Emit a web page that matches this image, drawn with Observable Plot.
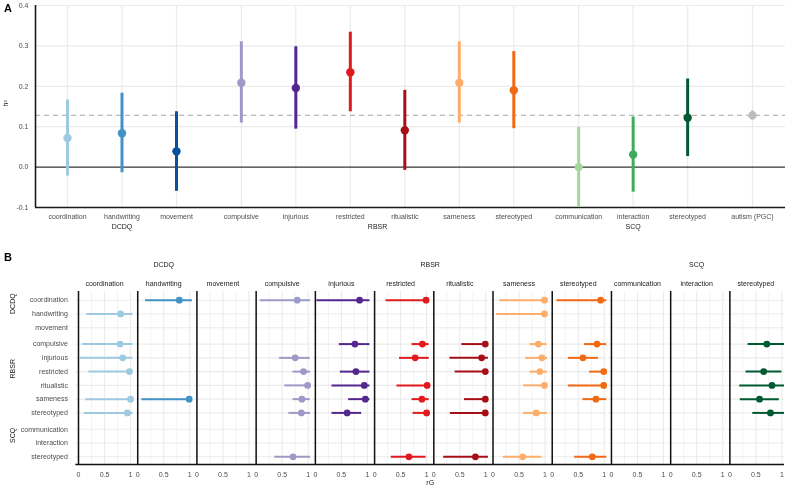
<!DOCTYPE html>
<html><head><meta charset="utf-8">
<script src="https://cdn.jsdelivr.net/npm/d3@7"></script>
<script src="https://cdn.jsdelivr.net/npm/@observablehq/plot@0.6"></script>
<style>
body{margin:0;background:#fff;font-family:"Liberation Sans",Arial,sans-serif;}
#wrap{position:relative;width:787px;height:489px;overflow:hidden;background:#fff;}
.tag{position:absolute;font-weight:bold;font-size:11px;color:#000;line-height:1;}
#pa{position:absolute;left:0;top:0}
#pb{position:absolute;left:0;top:240px}
#wrap svg{will-change:transform;}
</style></head><body>
<div id="wrap"><div id="pa"></div><div id="pb"></div>
<div class="tag" style="left:4px;top:3px">A</div>
<div class="tag" style="left:4px;top:252px">B</div></div>
<script>
// ---------- data ----------
const traits = ["coordination","handwriting","movement","compulsive","injurious","restricted","ritualistic","sameness","stereotyped","communication","interaction","stereotyped","autism (PGC)"];
const groups = ["DCDQ","DCDQ","DCDQ","RBSR","RBSR","RBSR","RBSR","RBSR","RBSR","SCQ","SCQ","SCQ","PGC"];
const colors = ["#9ecae1","#4292c6","#08519c","#9e9ac8","#54278f","#e31a1c","#a50f15","#fdae6b","#f16913","#a1d99b","#41ab5d","#005a32","#bdbdbd"];
const h2Est = [0.072,0.084,0.039,0.209,0.196,0.235,0.091,0.209,0.190,0.000,0.031,0.122,0.128];
const h2Lo  = [-0.022,-0.014,-0.060,0.109,0.094,0.137,-0.008,0.109,0.095,-0.100,-0.062,0.026,0.117];
const h2Hi  = [0.166,0.183,0.137,0.310,0.298,0.334,0.190,0.310,0.286,0.098,0.124,0.218,0.139];
const pgcH2 = 0.128;
const h2Ticks = [-0.1,0,0.1,0.2,0.3,0.4];
const groupNames = ["DCDQ","RBSR","SCQ"];

// genetic correlations: column trait index, row trait index, estimate, lower, upper
const rgCol = [0,0,0,0,0,0, 1,1, 3,3,3,3,3,3,3, 4,4,4,4,4,4, 5,5,5,5,5,5,5, 6,6,6,6,6,6, 7,7,7,7,7,7,7,7, 8,8,8,8,8,8,8, 11,11,11,11,11];
const rgRow = [1,3,4,5,7,8, 0,7, 0,4,5,6,7,8,11, 0,3,5,6,7,8, 0,3,4,6,7,8,11, 3,4,5,7,8,11, 0,1,3,4,5,6,8,11, 0,3,4,5,6,7,11, 3,5,6,7,8];
const rgEst = [0.81,0.80,0.85,0.98,1.00,0.94, 0.80,0.99, 0.79,0.75,0.91,0.99,0.88,0.87,0.71, 0.85,0.76,0.78,0.94,0.96,0.61, 0.99,0.92,0.78,1.01,0.91,1.00,0.66, 0.99,0.92,0.99,0.99,0.99,0.80, 0.99,0.99,0.87,0.94,0.90,0.99,0.83,0.57, 0.93,0.86,0.59,0.99,0.99,0.84,0.77, 0.71,0.65,0.81,0.57,0.78];
const rgLo  = [0.16,0.08,0.04,0.20,0.14,0.11, 0.15,0.08, 0.08,0.45,0.71,0.55,0.71,0.63,0.36, 0.03,0.46,0.48,0.32,0.64,0.32, 0.22,0.72,0.48,0.43,0.72,0.74,0.32, 0.54,0.31,0.41,0.59,0.32,0.19, 0.13,0.07,0.71,0.63,0.71,0.59,0.59,0.20, 0.09,0.62,0.31,0.72,0.31,0.59,0.43, 0.35,0.31,0.19,0.20,0.44];
const rgHi  = [1.05,1.05,1.05,1.05,1.05,1.05, 1.05,1.04, 1.05,1.04,1.05,1.05,1.04,1.05,1.05, 1.05,1.05,1.05,1.05,1.05,0.89, 1.05,1.05,1.05,1.05,1.05,1.05,0.99, 1.05,1.05,1.03,1.04,1.04,1.05, 1.04,1.04,1.04,1.05,1.05,1.04,1.05,0.94, 1.05,1.05,0.89,1.05,1.05,1.05,1.05, 1.05,1.00,1.05,0.95,1.05];
const rgTicks = [0,0.5,1];
const rgGrid = [0,0.25,0.5,0.75,1];

// ---------- layout helpers ----------
const FONT = '"Liberation Sans", Arial, sans-serif';
const gIdx = {DCDQ:0,RBSR:1,SCQ:2,PGC:3};
const GAP_A = 0.19, GAP_B = 0.19, STEP = 1.1385;
const posA = traits.map((t,i)=> i + GAP_A*gIdx[groups[i]]);
const dataA = traits.map((t,i)=>({pos:posA[i], est:h2Est[i], lo:h2Lo[i], hi:h2Hi[i], color:colors[i]}));
const labA = new Map(posA.map((p,i)=>[p,traits[i]]));
const grpA = groupNames.map(g=>{const ps=posA.filter((p,i)=>groups[i]===g);return {g, x:(d3.min(ps)+d3.max(ps))/2};});
const sA = (752-67)/(posA[12]-posA[0]);
const xDomA = [posA[0]-(67-35)/sA, posA[12]+(785-752)/sA];

const chartA = Plot.plot({
  width:787, height:236, marginLeft:35, marginRight:2, marginTop:5, marginBottom:29,
  style:{fontFamily:FONT, fontSize:"7px", background:"transparent", overflow:"visible"},
  x:{domain:xDomA, axis:null},
  y:{domain:[-0.1,0.4], axis:null},
  color:{type:"identity"},
  marks:[
    Plot.ruleY(h2Ticks.filter(d=>d>-0.1 && d!==0), {stroke:"#ebebeb", strokeWidth:1.2}),
    Plot.ruleX(posA, {stroke:"#ebebeb", strokeWidth:1.2}),
    Plot.ruleY([pgcH2], {stroke:"#b8b8b8", strokeWidth:1.3, strokeDasharray:"5,4"}),
    Plot.ruleY([0], {stroke:"#000", strokeWidth:1}),
    Plot.ruleY([-0.1], {stroke:"#1a1a1a", strokeWidth:1.6}),
    Plot.ruleX([xDomA[0]], {stroke:"#1a1a1a", strokeWidth:1.6}),
    Plot.ruleX(dataA, {x:"pos", y1:d=>Math.max(d.lo,-0.1), y2:"hi", stroke:"color", strokeWidth:3}),
    Plot.dot(dataA, {x:"pos", y:"est", fill:"color", r:4.2, stroke:null}),
    Plot.axisY({ticks:h2Ticks, tickFormat:d=>d.toFixed(1), tickSize:0, tickPadding:7, color:"#4d4d4d", label:null}),
    Plot.axisX({ticks:posA, tickFormat:d=>labA.get(d), tickSize:0, tickPadding:7, color:"#4d4d4d", label:null}),
    Plot.text(grpA, {x:"x", text:"g", frameAnchor:"bottom", dy:21, fill:"#1a1a1a"}),
    Plot.text(["h²"], {frameAnchor:"left", dx:-30, rotate:-90, fill:"#1a1a1a", fontSize:7})
  ]
});
document.getElementById("pa").appendChild(chartA);

// ---------- panel B ----------
const rowTraits = traits.slice(0,12), rowGroups = groups.slice(0,12);
const colTraits = traits.slice(0,12), colColors = colors.slice(0,12);
const rowPos = rowTraits.map((t,i)=> i + GAP_B*gIdx[rowGroups[i]]);
const colOff = colTraits.map((t,i)=> i*STEP);
const dataB = rgEst.map((e,k)=>({x:colOff[rgCol[k]]+e, x1:colOff[rgCol[k]]+rgLo[k], x2:colOff[rgCol[k]]+rgHi[k], y:rowPos[rgRow[k]], color:colColors[rgCol[k]]}));
const sB = (456.3-299.7)/(rowPos[11]-rowPos[0]);
const yDomB = [rowPos[0]-(299.7-291)/sB, rowPos[11]+(464-456.3)/sB];
const xDomB = [-0.05, colOff[11]+1.05];
const gridV = colOff.flatMap(o=>rgGrid.map(v=>({x:o+v, major:v%0.5===0})));
const gridH = colOff.flatMap(o=>rowPos.map(y=>({y, x1:o-0.05, x2:o+1.05})));
const ticksB = colOff.flatMap(o=>rgTicks.map(v=>o+v));
const labB = new Map(colOff.flatMap(o=>rgTicks.map(v=>[o+v, String(v)])));
const rowsB = rowTraits.map((t,i)=>({t, y:rowPos[i]}));
const colsB = colTraits.map((t,i)=>({t, x:colOff[i]+0.5}));
const grpRowB = groupNames.map(g=>{const ps=rowPos.filter((p,i)=>rowGroups[i]===g);return {g, y:(d3.min(ps)+d3.max(ps))/2};});
const grpColB = groupNames.map(g=>{const ps=colOff.filter((p,i)=>rowGroups[i]===g);return {g, x:(d3.min(ps)+d3.max(ps))/2+0.5};});

const chartB = Plot.plot({
  width:787, height:249, marginLeft:75.4, marginRight:3, marginTop:51, marginBottom:25,
  style:{fontFamily:FONT, fontSize:"7px", background:"transparent", overflow:"visible"},
  x:{domain:xDomB, axis:null},
  y:{domain:yDomB, reverse:true, axis:null},
  color:{type:"identity"},
  marks:[
    Plot.ruleX(gridV, {x:"x", stroke:"#ebebeb", strokeWidth:d=>d.major?1.1:0.6}),
    Plot.ruleY(gridH, {y:"y", x1:"x1", x2:"x2", stroke:"#ebebeb", strokeWidth:1.1}),
    Plot.ruleX(colOff, {stroke:"#111", strokeWidth:1.5}),
    Plot.ruleY([yDomB[1]], {stroke:"#111", strokeWidth:1.5}),
    Plot.ruleY(dataB, {y:"y", x1:"x1", x2:"x2", stroke:"color", strokeWidth:2}),
    Plot.dot(dataB, {x:"x", y:"y", fill:"color", r:3.4, stroke:null}),
    Plot.axisX({ticks:ticksB, tickFormat:d=>labB.get(d), tickSize:0, tickPadding:8, color:"#4d4d4d", label:null}),
    Plot.text(["rG"], {frameAnchor:"bottom", dy:20, fill:"#1a1a1a"}),
    Plot.text(rowsB, {y:"y", text:"t", frameAnchor:"left", dx:-8, textAnchor:"end", fill:"#4d4d4d"}),
    Plot.text(grpRowB, {y:"y", text:"g", frameAnchor:"left", dx:-63, rotate:-90, fill:"#1a1a1a"}),
    Plot.text(colsB, {x:"x", text:"t", frameAnchor:"top", dy:-10, fill:"#1a1a1a"}),
    Plot.text(grpColB, {x:"x", text:"g", frameAnchor:"top", dy:-29, fill:"#1a1a1a"})
  ]
});
document.getElementById("pb").appendChild(chartB);
</script>
</body></html>
